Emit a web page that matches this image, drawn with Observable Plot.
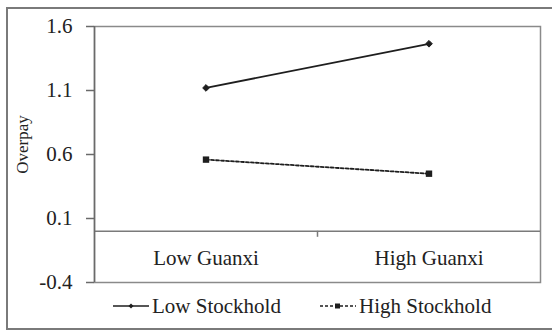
<!DOCTYPE html>
<html>
<head>
<meta charset="utf-8">
<script src="https://cdn.jsdelivr.net/npm/d3@7"></script>
<script src="https://cdn.jsdelivr.net/npm/@observablehq/plot@0.6"></script>
<style>
  html, body { margin: 0; padding: 0; background: #fff; }
  #wrap { position: relative; width: 552px; height: 333px; overflow: hidden; font-family: "Liberation Serif", "Times New Roman", serif; color: #222; }
  #border { position: absolute; left: 6px; top: 7px; width: 560px; height: 323px; border: 2px solid #7a7a7a; box-sizing: border-box; pointer-events: none; }
  #chart { position: absolute; left: 0; top: 0; }
  .leg { position: absolute; top: 294px; display: flex; align-items: center; font-size: 21px; line-height: 24px; }
  .leg svg { display: block; margin-right: 2px; }
</style>
</head>
<body>
<div id="wrap">
  <div id="chart"></div>
  <div class="leg" id="leg1"></div>
  <div class="leg" id="leg2"></div>
  <div id="border"></div>
</div>
<script>
const guanxi = ["Low Guanxi", "High Guanxi"];
const series = ["Low Stockhold", "High Stockhold"];
const lowStockhold = [1.12, 1.465];
const highStockhold = [0.56, 0.45];
const yTicks = [-0.4, 0.1, 0.6, 1.1, 1.6];
const yLabel = "Overpay";

const rows = [];
guanxi.forEach((g, i) => {
  rows.push({guanxi: g, idx: i, series: series[0], value: lowStockhold[i]});
  rows.push({guanxi: g, idx: i, series: series[1], value: highStockhold[i]});
});
const low = rows.filter(d => d.series === series[0]);
const high = rows.filter(d => d.series === series[1]);
const xPos = d => d.idx + 0.5;

const chart = Plot.plot({
  width: 552,
  height: 300,
  marginLeft: 94,
  marginRight: 12,
  marginTop: 26,
  marginBottom: 18,
  style: {fontFamily: "'Liberation Serif', 'Times New Roman', serif", fontSize: "21px", color: "#222", background: "transparent", overflow: "visible"},
  x: {domain: [0, guanxi.length], axis: null},
  y: {domain: [yTicks[0], yTicks[yTicks.length - 1]], axis: null},
  marks: [
    Plot.frame({stroke: "#8a8a8a", strokeWidth: 1.5}),
    Plot.ruleY([0], {stroke: "#7a7a7a", strokeWidth: 1.5}),
    Plot.ruleX([0], {stroke: "#6a6a6a", strokeWidth: 1.5}),
    Plot.ruleX([1], {y1: 0, y2: 0, insetBottom: -6, stroke: "#7a7a7a", strokeWidth: 1.5}),
    Plot.axisY({ticks: yTicks, tickFormat: d => d.toFixed(1), tickSize: 8, tickPadding: 14, stroke: "#6a6a6a", strokeWidth: 1.5, fontSize: 21, label: null}),
    Plot.text([yLabel], {frameAnchor: "left", rotate: -90, textAnchor: "middle", lineAnchor: "middle", dx: -72, dy: -10, fontSize: 17}),
    Plot.text(guanxi, {x: (d, i) => i + 0.5, frameAnchor: "bottom", lineAnchor: "middle", dy: -24, fontSize: 21}),
    Plot.line(low, {x: xPos, y: "value", stroke: "#1e1e1e", strokeWidth: 1.8}),
    Plot.line(high, {x: xPos, y: "value", stroke: "#1e1e1e", strokeWidth: 1.8, strokeDasharray: "3,2"}),
    Plot.dot(low, {x: xPos, y: "value", symbol: "diamond2", r: 3, fill: "#1e1e1e", stroke: "#1e1e1e", strokeWidth: 1}),
    Plot.dot(high, {x: xPos, y: "value", symbol: "square", r: 3.6, fill: "#1e1e1e", stroke: "none"})
  ]
});
document.getElementById("chart").appendChild(chart);

// Legend
function legendItem(el, name, dashed, sym) {
  const ns = "http://www.w3.org/2000/svg";
  const s = document.createElementNS(ns, "svg");
  s.setAttribute("width", 37); s.setAttribute("height", 12);
  const l = document.createElementNS(ns, "line");
  l.setAttribute("x1", 0); l.setAttribute("x2", 36); l.setAttribute("y1", 6); l.setAttribute("y2", 6);
  l.setAttribute("stroke", "#1e1e1e"); l.setAttribute("stroke-width", 1.5);
  if (dashed) l.setAttribute("stroke-dasharray", "3,2");
  s.appendChild(l);
  const p = document.createElementNS(ns, "path");
  p.setAttribute("d", sym === "square" ? "M15,3.5h5v5h-5z" : "M18,3.5l2.5,2.5l-2.5,2.5l-2.5,-2.5z");
  p.setAttribute("fill", "#1e1e1e");
  s.appendChild(p);
  el.appendChild(s);
  const t = document.createElement("span");
  t.textContent = name;
  el.appendChild(t);
}
const l1 = document.getElementById("leg1"); l1.style.left = "113px";
const l2 = document.getElementById("leg2"); l2.style.left = "320px";
legendItem(l1, series[0], false, "diamond");
legendItem(l2, series[1], true, "square");
</script>
</body>
</html>
